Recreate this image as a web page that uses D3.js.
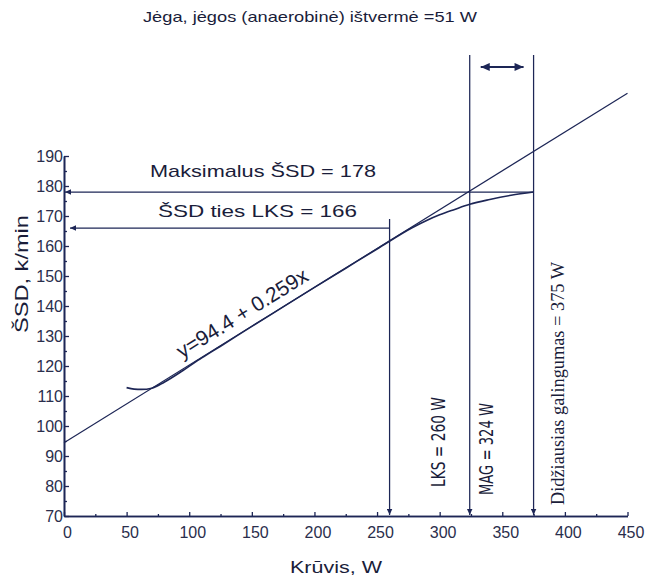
<!DOCTYPE html>
<html>
<head>
<meta charset="utf-8">
<script src="https://cdn.jsdelivr.net/npm/d3@7"></script>
<style>
  body { margin: 0; background: #fff; }
  svg { display: block; }
</style>
</head>
<body>
<svg id="chart" width="656" height="577"></svg>
<script>
// Heart rate (ŠSD) against load during a graded exercise test
const loads      = [50, 56, 62, 70, 80, 95, 110, 125, 150, 175, 200, 225, 250, 278, 290, 300, 312, 324, 340, 357, 375];
const heartRates = [112.8, 112.3, 112.2, 112.6, 114.6, 118.5, 122.7, 126.6, 133.2, 139.7, 146.2, 152.6, 159.0, 166.1, 168.6, 170.4, 172.2, 173.9, 175.5, 176.9, 178];

// Linear fit of the heart-rate response
const fitIntercept = 94.4;
const fitSlope = 0.259;
const fitRange = [0, 450];

// Axis ticks
const xTicks = [0, 50, 100, 150, 200, 250, 300, 350, 400, 450];
const xMinorTicks = [25, 75, 125, 175, 225, 275, 325, 375, 425];
const yTicks = [70, 80, 90, 100, 110, 120, 130, 140, 150, 160, 170, 180, 190];
const yMinorTicks = [75, 85, 95, 105, 115, 125, 135, 145, 155, 165, 175, 185];

// Threshold markers
const lksLoad = 260;        // LKS
const lksHeartRate = 166;   // ŠSD at LKS
const magLoad = 324;        // MAG
const peakLoad = 375;       // maximal power
const peakHeartRate = 178;  // maximal ŠSD

// Texts
const titleText = "Jėga, jėgos (anaerobinė) ištvermė =51 W";
const xTitle = "Krūvis, W";
const yTitle = "ŠSD, k/min";
const fitLabel = `y=${fitIntercept} + ${fitSlope}x`;
const peakHrLabel = `Maksimalus ŠSD = ${peakHeartRate}`;
const lksHrLabel = `ŠSD ties LKS = ${lksHeartRate}`;
const lksLabel = `LKS = ${lksLoad} W`;
const magLabel = `MAG = ${magLoad} W`;
const peakLoadLabel = `Didžiausias  galingumas = ${peakLoad} W`;

const ink = "#1d2656";
const textInk = "#1a1d3a";
const sans = "'Liberation Sans', Arial, Helvetica, sans-serif";
const narrow = "'Liberation Sans Narrow', 'DejaVu Sans Condensed', 'Arial Narrow', sans-serif";
const serif = "'Liberation Serif', 'Times New Roman', serif";

const svg = d3.select("#chart");

const x = d3.scaleLinear().domain([0, 450]).range([64, 627.5]);
const y = d3.scaleLinear().domain([70, 190]).range([516, 156]);

// Arrowheads
const defs = svg.append("defs");
function arrowMarker(id, w, h) {
  defs.append("marker")
    .attr("id", id)
    .attr("viewBox", "0 0 10 10")
    .attr("refX", 10).attr("refY", 5)
    .attr("markerUnits", "userSpaceOnUse")
    .attr("markerWidth", w).attr("markerHeight", h)
    .attr("orient", "auto-start-reverse")
    .append("path")
    .attr("d", "M0,0.5 L10,5 L0,9.5 Z")
    .attr("fill", ink);
}
arrowMarker("head", 7, 6);
arrowMarker("headBig", 10, 9);

// Title
svg.append("text")
  .attr("x", 143).attr("y", 22)
  .attr("font-family", sans).attr("font-size", 15)
  .attr("fill", textInk)
  .attr("textLength", 334).attr("lengthAdjust", "spacingAndGlyphs")
  .text(titleText);

// Axes
const yAxis = d3.axisLeft(y).tickValues(yTicks).tickSizeInner(-5).tickSizeOuter(0).tickPadding(1);
const yMinor = d3.axisLeft(y).tickValues(yMinorTicks).tickSizeInner(-3).tickSizeOuter(0).tickFormat("");
const xAxis = d3.axisBottom(x).tickValues(xTicks).tickSizeInner(-4).tickSizeOuter(0).tickPadding(11);
const xMinor = d3.axisBottom(x).tickValues(xMinorTicks).tickSizeInner(-2).tickSizeOuter(0).tickFormat("");

function styleAxis(g) {
  g.selectAll("path.domain").attr("stroke", ink).attr("stroke-width", 1.6);
  g.selectAll(".tick line").attr("stroke", ink).attr("stroke-width", 1.3);
  g.selectAll(".tick text")
    .attr("fill", "#2a2e4c")
    .attr("font-family", sans)
    .attr("font-size", 16);
}

svg.append("g").attr("transform", `translate(${x(0)},0)`).call(yMinor).call(styleAxis);
svg.append("g").attr("transform", `translate(${x(0)},0)`).call(yAxis).call(styleAxis);
svg.append("g").attr("transform", `translate(0,${y(70)})`).call(xMinor).call(styleAxis);
const gx = svg.append("g").attr("transform", `translate(0,${y(70)})`).call(xAxis).call(styleAxis);
gx.selectAll(".tick text").attr("dx", 3);

// Axis titles
svg.append("text")
  .attr("x", 290).attr("y", 573)
  .attr("font-family", sans).attr("font-size", 17)
  .attr("fill", textInk)
  .attr("textLength", 92).attr("lengthAdjust", "spacingAndGlyphs")
  .text(xTitle);

svg.append("text")
  .attr("transform", `translate(28,274) rotate(-90)`)
  .attr("text-anchor", "middle")
  .attr("font-family", sans).attr("font-size", 18)
  .attr("fill", textInk)
  .attr("textLength", 118).attr("lengthAdjust", "spacingAndGlyphs")
  .text(yTitle);

// Regression line
const fitLine = d3.line().x(d => x(d)).y(d => y(fitIntercept + fitSlope * d));
svg.append("path")
  .attr("d", fitLine(fitRange))
  .attr("fill", "none")
  .attr("stroke", ink)
  .attr("stroke-width", 1.2);

// Measured heart-rate curve
const hrLine = d3.line()
  .x((d, i) => x(loads[i]))
  .y((d, i) => y(heartRates[i]))
  .curve(d3.curveMonotoneX);
svg.append("path")
  .attr("d", hrLine(loads))
  .attr("fill", "none")
  .attr("stroke", ink)
  .attr("stroke-width", 1.6);

// Fit equation, set along the line
const fitAnchorLoad = 98;
const angle = Math.atan2(y(fitIntercept + fitSlope * 100) - y(fitIntercept), x(100) - x(0)) * 180 / Math.PI;
svg.append("text")
  .attr("transform", `translate(${x(fitAnchorLoad)},${y(fitIntercept + fitSlope * fitAnchorLoad)}) rotate(${angle}) translate(0,-9)`)
  .attr("font-family", sans).attr("font-size", 21)
  .attr("fill", textInk)
  .text(fitLabel);

// Horizontal arrows to the heart-rate axis
svg.append("line")
  .attr("x1", x(peakLoad)).attr("y1", y(peakHeartRate))
  .attr("x2", x(0) + 1).attr("y2", y(peakHeartRate))
  .attr("stroke", ink).attr("stroke-width", 1.25)
  .attr("marker-end", "url(#head)");
svg.append("line")
  .attr("x1", x(lksLoad)).attr("y1", y(lksHeartRate))
  .attr("x2", x(0) + 6).attr("y2", y(lksHeartRate))
  .attr("stroke", ink).attr("stroke-width", 1.25)
  .attr("marker-end", "url(#head)");

// Vertical arrows to the load axis
const markerTop = 55;
svg.append("line")
  .attr("x1", x(lksLoad)).attr("y1", y(lksHeartRate) - 9)
  .attr("x2", x(lksLoad)).attr("y2", y(70) - 1)
  .attr("stroke", ink).attr("stroke-width", 1.25)
  .attr("marker-end", "url(#head)");
[magLoad, peakLoad].forEach(v => {
  svg.append("line")
    .attr("x1", x(v)).attr("y1", markerTop)
    .attr("x2", x(v)).attr("y2", y(70) - 1)
    .attr("stroke", ink).attr("stroke-width", 1.25)
    .attr("marker-end", "url(#head)");
});

// Double arrow between MAG and maximal power
svg.append("line")
  .attr("x1", x(magLoad) + 11).attr("y1", 67)
  .attr("x2", x(peakLoad) - 10).attr("y2", 67)
  .attr("stroke", ink).attr("stroke-width", 2)
  .attr("marker-start", "url(#headBig)")
  .attr("marker-end", "url(#headBig)");

// Annotation texts
svg.append("text")
  .attr("x", 150).attr("y", 177)
  .attr("font-family", sans).attr("font-size", 17)
  .attr("fill", textInk)
  .attr("textLength", 226).attr("lengthAdjust", "spacingAndGlyphs")
  .text(peakHrLabel);
svg.append("text")
  .attr("x", 158).attr("y", 217)
  .attr("font-family", sans).attr("font-size", 17)
  .attr("fill", textInk)
  .attr("textLength", 199).attr("lengthAdjust", "spacingAndGlyphs")
  .text(lksHrLabel);

svg.append("text")
  .attr("transform", `translate(445,487) rotate(-90)`)
  .attr("font-family", narrow).attr("font-size", 19)
  .attr("fill", textInk)
  .attr("textLength", 90).attr("lengthAdjust", "spacingAndGlyphs")
  .text(lksLabel);
svg.append("text")
  .attr("transform", `translate(493,495) rotate(-90)`)
  .attr("font-family", narrow).attr("font-size", 19)
  .attr("fill", textInk)
  .attr("textLength", 92).attr("lengthAdjust", "spacingAndGlyphs")
  .text(magLabel);
svg.append("text")
  .attr("transform", `translate(564,505) rotate(-90)`)
  .attr("font-family", serif).attr("font-size", 18)
  .attr("fill", textInk)
  .attr("textLength", 243).attr("lengthAdjust", "spacingAndGlyphs")
  .text(peakLoadLabel);
</script>
</body>
</html>
